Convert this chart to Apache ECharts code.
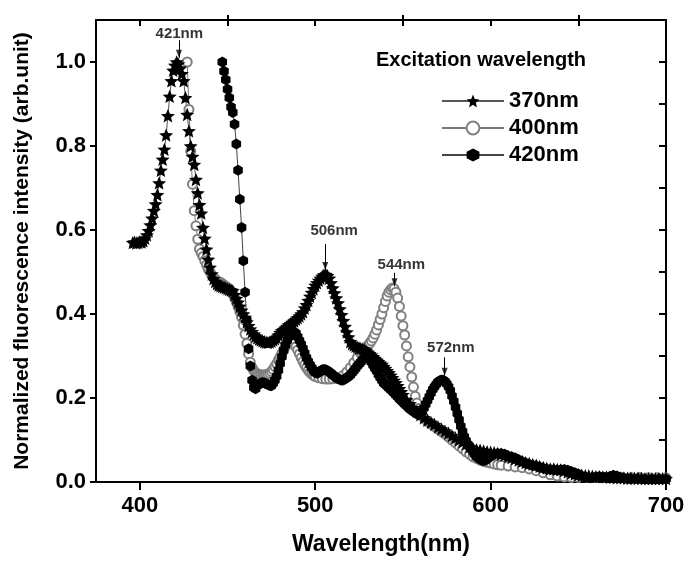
<!DOCTYPE html>
<html><head><meta charset="utf-8">
<script src="https://cdn.jsdelivr.net/npm/echarts@6/dist/echarts.min.js"></script>
<style>html,body{margin:0;padding:0;background:#fff}#c{width:689px;height:564px}</style>
</head><body><div id="c"></div>
<script>
// ---- data (wavelength nm, normalized intensity) ----
const s370 = [[396,.570],[397,.571],[398,.569],[399,.570],[400,.572],[401,.571],[402,.574],[403,.580],[404,.588],[405,.598],[406,.612],[407,.628],[408,.646],[409,.662],[410,.684],[411,.712],[412,.742],[413,.768],[414,.792],[415,.826],[416,.872],[417,.918],[418,.955],[419,.980],[420,.992],[421,1.000],[422,.995],[423,.985],[424,.972],[425,.955],[426,.915],[427,.875],[428,.836],[429,.800],[430,.775],[431,.756],[432,.720],[433,.688],[434,.660],[435,.640],[436,.606],[437,.580],[438,.554],[439,.530],[440,.511],[441,.495],[442,.484],[443,.477],[444,.472],[445,.469],[446,.467],[447,.465],[448,.464],[449,.462],[450,.460],[451,.458],[452,.457],[453,.455],[454,.446],[455,.437],[456,.428],[457,.418],[458,.409],[459,.400],[460,.392],[461,.381],[462,.372],[463,.364],[464,.358],[465,.352],[466,.347],[467,.343],[468,.340],[469,.338],[470,.336],[471,.334],[472,.333],[473,.332],[474,.333],[475,.335],[476,.338],[477,.341],[478,.344],[479,.350],[480,.356],[481,.360],[482,.363],[483,.366],[484,.370],[485,.374],[486,.377],[487,.380],[488,.383],[489,.387],[490,.391],[491,.395],[492,.400],[493,.405],[494,.414],[495,.422],[496,.432],[497,.442],[498,.451],[499,.460],[500,.468],[501,.474],[502,.480],[503,.485],[504,.490],[505,.493],[506,.494],[507,.491],[508,.485],[509,.474],[510,.462],[511,.450],[512,.438],[513,.426],[514,.412],[515,.398],[516,.384],[517,.370],[518,.357],[519,.345],[520,.334],[521,.329],[522,.326],[523,.323],[524,.321],[525,.319],[526,.318],[527,.316],[528,.315],[529,.312],[530,.309],[531,.306],[532,.302],[533,.298],[534,.294],[535,.290],[536,.287],[537,.283],[538,.280],[539,.275],[540,.270],[541,.265],[542,.260],[543,.254],[544,.248],[545,.242],[546,.236],[547,.229],[548,.222],[549,.215],[550,.208],[552,.196],[554,.186],[556,.177],[558,.168],[560,.160],[562,.153],[564,.147],[566,.142],[568,.137],[570,.131],[572,.126],[574,.121],[576,.116],[578,.110],[580,.105],[582,.100],[584,.095],[586,.090],[588,.084],[590,.079],[592,.077],[594,.076],[596,.074],[598,.072],[600,.071],[602,.070],[604,.068],[606,.066],[608,.064],[610,.061],[612,.058],[614,.055],[616,.052],[618,.049],[620,.046],[622,.044],[624,.042],[626,.040],[628,.037],[630,.035],[632,.033],[634,.031],[636,.031],[638,.030],[640,.029],[642,.027],[644,.024],[646,.021],[648,.019],[650,.017],[652,.016],[654,.015],[656,.015],[658,.014],[660,.013],[662,.013],[664,.012],[666,.012],[668,.011],[670,.011],[672,.010],[674,.010],[676,.010],[678,.009],[680,.009],[682,.009],[684,.009],[686,.009],[688,.008],[690,.008],[692,.008],[694,.008],[696,.008],[698,.008],[700,.008]];

const s400 = [[427,1.000],[428,.887],[429,.788],[430,.709],[431,.646],[432,.610],[433,.578],[434,.555],[435,.545],[436,.537],[437,.527],[438,.517],[439,.507],[440,.500],[441,.494],[442,.488],[443,.483],[444,.479],[445,.477],[446,.475],[447,.472],[448,.469],[449,.466],[450,.463],[451,.459],[452,.454],[453,.448],[454,.438],[455,.428],[456,.418],[457,.406],[458,.392],[459,.373],[460,.352],[461,.330],[462,.305],[463,.285],[464,.272],[465,.265],[466,.260],[467,.258],[468,.256],[469,.255],[470,.255],[471,.255],[472,.256],[473,.257],[474,.259],[475,.263],[476,.268],[477,.275],[478,.282],[479,.290],[480,.298],[481,.306],[482,.315],[483,.322],[484,.328],[485,.332],[486,.335],[487,.334],[488,.329],[489,.322],[490,.314],[491,.305],[492,.296],[493,.287],[494,.279],[495,.272],[496,.266],[497,.261],[498,.257],[499,.254],[500,.251],[502,.248],[504,.246],[506,.245],[508,.245],[510,.246],[512,.247],[514,.249],[516,.254],[518,.262],[520,.272],[522,.284],[524,.296],[526,.306],[528,.316],[530,.325],[531,.330],[532,.336],[533,.343],[534,.352],[535,.362],[536,.374],[537,.387],[538,.400],[539,.415],[540,.430],[541,.443],[542,.452],[543,.458],[544,.462],[545,.460],[546,.452],[547,.438],[548,.418],[549,.395],[550,.372],[551,.350],[552,.324],[553,.298],[554,.274],[555,.250],[556,.226],[557,.204],[558,.188],[559,.175],[560,.166],[561,.158],[562,.152],[564,.144],[566,.138],[568,.132],[570,.126],[572,.120],[574,.114],[576,.107],[578,.100],[580,.093],[582,.086],[584,.079],[586,.072],[588,.066],[590,.060],[592,.056],[594,.052],[596,.049],[598,.047],[600,.045],[602,.043],[604,.041],[606,.040],[610,.038],[614,.036],[618,.034],[622,.031],[626,.027],[630,.022],[634,.017],[638,.014],[642,.012],[646,.011],[650,.011],[655,.011],[660,.011],[665,.011],[670,.011],[675,.011],[680,.011],[685,.011],[690,.010],[695,.010],[700,.010]];

const s420 = [[447,1.000],[448,.978],[449,.958],[450,.935],[451,.915],[452,.893],[453,.880],[454,.852],[455,.805],[456,.742],[457,.673],[458,.606],[459,.527],[460,.452],[461,.385],[462,.317],[463,.276],[464,.242],[465,.225],[466,.222],[467,.230],[468,.233],[469,.236],[470,.237],[471,.236],[472,.234],[473,.232],[474,.230],[475,.229],[476,.235],[477,.242],[478,.252],[479,.266],[480,.282],[481,.298],[482,.313],[483,.326],[484,.337],[485,.346],[486,.352],[487,.356],[488,.357],[489,.354],[490,.346],[491,.337],[492,.328],[493,.318],[494,.307],[495,.296],[496,.287],[497,.279],[498,.272],[499,.266],[500,.261],[501,.259],[502,.261],[503,.264],[504,.267],[505,.268],[506,.267],[507,.265],[508,.262],[509,.259],[510,.255],[511,.252],[512,.249],[513,.246],[514,.244],[515,.242],[516,.243],[517,.245],[518,.248],[519,.251],[520,.255],[521,.260],[522,.265],[523,.270],[524,.276],[525,.281],[526,.286],[527,.291],[528,.295],[529,.297],[530,.296],[531,.292],[532,.286],[533,.278],[534,.271],[535,.264],[536,.256],[537,.249],[538,.242],[539,.236],[540,.232],[541,.228],[542,.224],[543,.220],[544,.216],[545,.212],[546,.207],[547,.203],[548,.198],[549,.194],[550,.190],[551,.186],[552,.182],[553,.178],[554,.174],[555,.171],[556,.168],[557,.165],[558,.162],[559,.160],[560,.162],[561,.168],[562,.176],[563,.185],[564,.194],[565,.203],[566,.212],[567,.220],[568,.227],[569,.233],[570,.238],[571,.241],[572,.243],[573,.242],[574,.239],[575,.234],[576,.227],[577,.218],[578,.205],[579,.192],[580,.178],[581,.163],[582,.148],[583,.133],[584,.120],[585,.108],[586,.098],[587,.090],[588,.084],[589,.078],[590,.072],[591,.066],[592,.061],[593,.057],[594,.054],[595,.052],[596,.051],[597,.052],[598,.055],[599,.058],[600,.062],[602,.066],[604,.068],[606,.068],[608,.066],[610,.062],[612,.060],[614,.057],[616,.053],[618,.049],[620,.045],[622,.042],[624,.040],[626,.038],[628,.036],[630,.033],[632,.031],[634,.030],[636,.029],[638,.028],[640,.029],[642,.030],[644,.028],[646,.025],[648,.022],[650,.019],[652,.014],[654,.011],[656,.010],[658,.011],[660,.012],[662,.013],[664,.012],[666,.011],[668,.013],[670,.016],[672,.014],[674,.011],[676,.009],[678,.008],[680,.008],[684,.008],[688,.007],[692,.007],[696,.007],[700,.007]];

const xMajorTicks = [400, 500, 600, 700];
const xMinorTicks = [450, 550, 650];
const xTopTicks = [400, 450, 500, 550, 600, 650, 700];
const yMajorTicks = [0, 0.2, 0.4, 0.6, 0.8, 1.0];
const yMinorTicks = [0.1, 0.3, 0.5, 0.7, 0.9];
const yRightTicks = [0, 0.1, 0.2, 0.3, 0.4, 0.5, 0.6, 0.7, 0.8, 0.9, 1.0];

// peak annotations: [x, labelY, text] and arrows [x, fromY, toY]
const annLabels = [[422.5, 1.068, '421nm'], [510.8, 0.597, '506nm'], [549.1, 0.517, '544nm'], [577.3, 0.319, '572nm']];
const annArrows = [[422.3, 1.052, 1.010], [505.7, 0.567, 0.505], [545.2, 0.498, 0.466], [573.8, 0.297, 0.253]];

const FONT = 'Liberation Sans, Arial, Helvetica, sans-serif';
const STAR = 'path://M0,-10 L2.645,-3.64 L9.51,-3.09 L4.28,1.39 L5.88,8.09 L0,4.5 L-5.88,8.09 L-4.28,1.39 L-9.51,-3.09 L-2.645,-3.64 Z';
const HEX = 'path://M0,-10 L8.66,-5 L8.66,5 L0,10 L-8.66,5 L-8.66,-5 Z';
const ARROWHEAD = 'path://M0,10 L-4,0 L4,0 Z';

const chart = echarts.init(document.getElementById('c'), null, {renderer: 'canvas'});
const axisLineStyle = {color: '#000', width: 2};
const baseX = {type: 'value', min: 375, max: 700, splitLine: {show: false}};
const baseY = {type: 'value', min: 0, max: 1.1, splitLine: {show: false}};

chart.setOption({
  animation: false,
  backgroundColor: '#fff',
  title: {
    text: 'Excitation wavelength', left: 376, top: 50, padding: 0,
    textStyle: {fontFamily: FONT, fontSize: 20, fontWeight: 'bold', color: '#000'}
  },
  legend: {
    orient: 'vertical', left: 441, top: 90, padding: 0,
    itemWidth: 62, itemHeight: 16, itemGap: 5,
    data: ['370nm', '400nm', '420nm'],
    textStyle: {fontFamily: FONT, fontSize: 22, fontWeight: 'bold', color: '#000'}
  },
  grid: {left: 96, right: 23, top: 20, bottom: 82, containLabel: false, outerBoundsMode: 'none'},
  xAxis: [
    Object.assign({}, baseX, {
      position: 'bottom',
      axisLine: {show: true, onZero: false, lineStyle: axisLineStyle},
      axisTick: {show: true, customValues: xMajorTicks, length: 8, lineStyle: {color: '#000', width: 2}},
      axisLabel: {customValues: xMajorTicks, fontFamily: FONT, fontSize: 22, fontWeight: 'bold', color: '#000', margin: 13},
      name: 'Wavelength(nm)', nameLocation: 'middle', nameGap: 51,
      nameTextStyle: {fontFamily: FONT, fontSize: 23, fontWeight: 'bold', color: '#000'}
    }),
    Object.assign({}, baseX, {
      position: 'top',
      axisLine: {show: true, onZero: false, lineStyle: axisLineStyle},
      axisTick: {show: true, inside: true, customValues: xTopTicks, length: 6, lineStyle: {color: '#000', width: 2}},
      axisLabel: {show: false}
    }),
    Object.assign({}, baseX, {
      position: 'top',
      axisLine: {show: false, onZero: false},
      axisTick: {show: true, customValues: xMinorTicks, length: 5, lineStyle: {color: '#000', width: 2}},
      axisLabel: {show: false}
    })
  ],
  yAxis: [
    Object.assign({}, baseY, {
      position: 'left',
      axisLine: {show: true, onZero: false, lineStyle: axisLineStyle},
      axisTick: {show: true, customValues: yMajorTicks, length: 6, lineStyle: {color: '#000', width: 2}},
      axisLabel: {customValues: yMajorTicks, formatter: v => v.toFixed(1), fontFamily: FONT, fontSize: 22, fontWeight: 'bold', color: '#000', margin: 10},
      name: 'Normalized fluorescence intensity (arb.unit)', nameLocation: 'middle', nameGap: 63,
      nameTextStyle: {fontFamily: FONT, fontSize: 21, fontWeight: 'bold', color: '#000'}
    }),
    Object.assign({}, baseY, {
      position: 'right',
      axisLine: {show: true, onZero: false, lineStyle: axisLineStyle},
      axisTick: {show: true, inside: true, customValues: yRightTicks, length: 7, lineStyle: {color: '#000', width: 2}},
      axisLabel: {show: false}
    }),
    Object.assign({}, baseY, {
      position: 'right',
      axisLine: {show: false, onZero: false},
      axisTick: {show: true, inside: true, customValues: yMinorTicks, length: 5, lineStyle: {color: '#000', width: 2}},
      axisLabel: {show: false}
    })
  ],
  series: [
    {
      name: '400nm', type: 'line', data: s400, xAxisIndex: 0, yAxisIndex: 0,
      symbol: 'emptyCircle', symbolSize: 9, showAllSymbol: true,
      itemStyle: {color: '#808080', borderWidth: 1},
      lineStyle: {color: '#777', width: 1}
    },
    {
      name: '370nm', type: 'line', data: s370, xAxisIndex: 0, yAxisIndex: 0,
      symbol: STAR, symbolSize: 14, symbolKeepAspect: true, showAllSymbol: true,
      itemStyle: {color: '#000'},
      lineStyle: {color: '#555', width: 1}
    },
    {
      name: '420nm', type: 'line', data: s420, xAxisIndex: 0, yAxisIndex: 0,
      symbol: HEX, symbolSize: 11, symbolKeepAspect: true, showAllSymbol: true,
      itemStyle: {color: '#000'},
      lineStyle: {color: '#444', width: 1}
    },
    {
      name: 'annotationText', type: 'scatter', data: annLabels, xAxisIndex: 0, yAxisIndex: 0,
      symbol: 'circle', symbolSize: 0, itemStyle: {color: '#000'}, silent: true, z: 10,
      label: {show: true, position: 'inside', formatter: p => p.value[2],
        fontFamily: FONT, fontSize: 15, fontWeight: 'bold', color: '#000', textBorderWidth: 0},
      markLine: {
        silent: true, animation: false, z: 10,
        symbol: ['none', 'none'],
        lineStyle: {color: '#000', width: 1, type: 'solid'},
        label: {show: false},
        data: annArrows.map(a => [{coord: [a[0], a[1]]}, {coord: [a[0], a[2]]}])
      }
    },
    {
      name: 'annotationArrow', type: 'scatter', xAxisIndex: 0, yAxisIndex: 0,
      data: annArrows.map(a => [a[0], a[2]]),
      symbol: ARROWHEAD, symbolSize: [6, 8], symbolOffset: [0, -4], silent: true, z: 10,
      itemStyle: {color: '#000'}
    }
  ]
});
</script>
</body></html>
